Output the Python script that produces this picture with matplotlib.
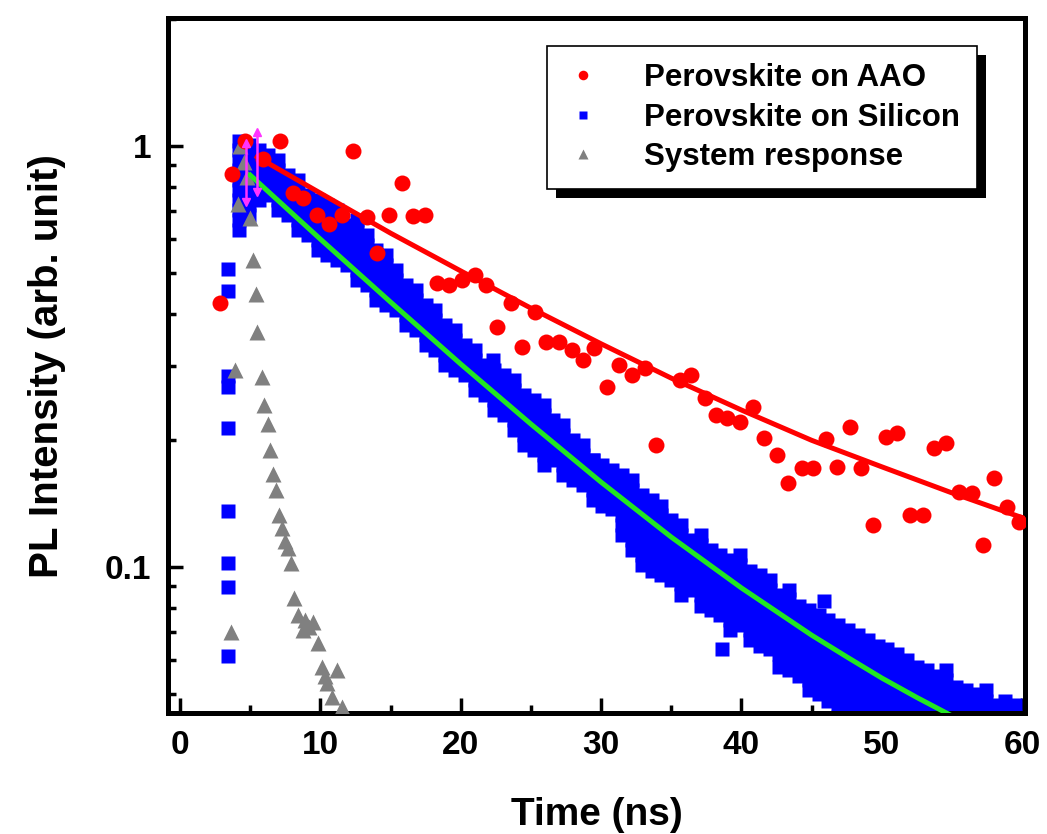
import matplotlib
matplotlib.use('Agg')
import matplotlib.pyplot as plt
from matplotlib.patches import Rectangle
from matplotlib.ticker import FixedLocator, FixedFormatter, MultipleLocator, NullFormatter

plt.rcParams['font.family'] = ['Liberation Sans', 'DejaVu Sans']
plt.rcParams['font.weight'] = 'bold'
plt.rcParams['axes.labelweight'] = 'bold'

# ---------------------------------------------------------------- data
# Perovskite on AAO (red dots)
aao_t = [2.85, 3.7, 4.63, 5.9, 7.12, 8.04, 8.75, 9.75, 10.6, 11.53, 12.31, 13.31, 14.02,
         14.88, 15.8, 16.58, 17.44, 18.3, 19.2, 20.1, 21.0, 21.8, 22.6, 23.6, 24.4, 25.3,
         26.1, 27.0, 27.9, 28.7, 29.5, 30.4, 31.3, 32.2, 33.1, 33.9, 35.6, 36.4, 37.4,
         38.2, 39.0, 39.9, 40.8, 41.6, 42.5, 43.3, 44.3, 45.1, 46.0, 46.8, 47.7, 48.5,
         49.4, 50.3, 51.1, 52.0, 52.9, 53.7, 54.6, 55.5, 56.4, 57.2, 58.0, 58.9, 59.8]
aao_i = [0.424, 0.858, 1.03, 0.93, 1.03, 0.773, 0.752, 0.686, 0.653, 0.686, 0.973, 0.678, 0.557,
         0.686, 0.817, 0.682, 0.686, 0.473, 0.468, 0.481, 0.494, 0.468, 0.372, 0.424, 0.333, 0.403,
         0.342, 0.342, 0.328, 0.310, 0.331, 0.268, 0.302, 0.286, 0.297, 0.195, 0.278, 0.286, 0.252,
         0.230, 0.226, 0.221, 0.240, 0.202, 0.185, 0.158, 0.172, 0.172, 0.201, 0.173, 0.215, 0.172,
         0.126, 0.204, 0.208, 0.133, 0.133, 0.192, 0.197, 0.151, 0.150, 0.113, 0.163, 0.139, 0.128]

# Perovskite on AAO fit (red line)
aao_fit_t = [5.5, 10, 15, 20, 25, 30, 35, 40, 45, 50, 55, 60]
aao_fit_i = [0.942, 0.773, 0.621, 0.505, 0.412, 0.339, 0.281, 0.236, 0.200, 0.173, 0.150, 0.131]

# Perovskite on Silicon (blue squares): rising edge, decay columns, stray points
si_rise_t = [3.45] * 9
si_rise_i = [0.510, 0.453, 0.284, 0.268, 0.214, 0.136, 0.102, 0.0896, 0.0615]

si_t = [4.2, 4.9, 5.6, 6.3, 7.0, 7.7, 8.4, 9.1, 9.8, 10.5, 11.2, 11.9, 12.6, 13.3, 14.0, 14.7,
        15.4, 16.1, 16.8, 17.5, 18.2, 18.9, 19.6, 20.3, 21.0, 21.7, 22.4, 23.1, 23.8, 24.5,
        25.2, 25.9, 26.6, 27.3, 28.0, 28.7, 29.4, 30.1, 30.8, 31.5, 32.2, 32.9, 33.6, 34.3,
        35.0, 35.7, 36.4, 37.1, 37.8, 38.5, 39.2, 39.9, 40.6, 41.3, 42.0, 42.7, 43.4, 44.1,
        44.8, 45.5, 46.2, 46.9, 47.6, 48.3, 49.0, 49.7, 50.4, 51.1, 51.8, 52.5, 53.2, 53.9,
        54.6, 55.3, 56.0, 56.7, 57.4, 58.1, 58.8, 59.5]
si_cols = [
    [1.03, 0.978, 0.926, 0.877, 0.830, 0.786, 0.744, 0.705, 0.667, 0.632],
    [1.005, 0.952, 0.901, 0.853, 0.808, 0.765, 0.724, 0.686],
    [0.978, 0.926, 0.877, 0.830, 0.786, 0.744],
    [0.952, 0.901, 0.853, 0.808, 0.765],
    [0.926, 0.877, 0.830, 0.786, 0.744, 0.705],
    [0.853, 0.808, 0.765, 0.724, 0.686],
    [0.830, 0.786, 0.744, 0.705, 0.667, 0.632],
    [0.765, 0.724, 0.686, 0.649, 0.615],
    [0.744, 0.705, 0.667, 0.632, 0.598, 0.566],
    [0.724, 0.686, 0.649, 0.615, 0.582, 0.551],
    [0.705, 0.667, 0.632, 0.598, 0.566, 0.536],
    [0.649, 0.615, 0.582, 0.551, 0.522],
    [0.667, 0.632, 0.598, 0.566, 0.536, 0.508, 0.481],
    [0.615, 0.582, 0.551, 0.522, 0.494, 0.468],
    [0.566, 0.536, 0.508, 0.481, 0.455, 0.431],
    [0.551, 0.522, 0.494, 0.468, 0.443, 0.419],
    [0.508, 0.481, 0.455, 0.431, 0.408],
    [0.468, 0.443, 0.419, 0.397, 0.376],
    [0.455, 0.431, 0.408, 0.386, 0.366],
    [0.419, 0.397, 0.376, 0.356, 0.337],
    [0.408, 0.386, 0.366, 0.346, 0.328],
    [0.376, 0.356, 0.337, 0.319, 0.302],
    [0.366, 0.346, 0.328, 0.310, 0.294],
    [0.337, 0.319, 0.302, 0.286],
    [0.328, 0.310, 0.294, 0.278, 0.263],
    [0.302, 0.286, 0.271, 0.256],
    [0.294, 0.278, 0.263, 0.249, 0.236],
    [0.286, 0.271, 0.256, 0.243, 0.230],
    [0.278, 0.263, 0.249, 0.236, 0.223, 0.212],
    [0.256, 0.243, 0.230, 0.218, 0.206, 0.195],
    [0.249, 0.236, 0.223, 0.212, 0.200, 0.190],
    [0.243, 0.230, 0.218, 0.206, 0.195, 0.185, 0.175],
    [0.223, 0.212, 0.200, 0.190, 0.180],
    [0.218, 0.206, 0.195, 0.185, 0.175, 0.165],
    [0.200, 0.190, 0.180, 0.170, 0.161],
    [0.195, 0.185, 0.175, 0.165, 0.157],
    [0.180, 0.170, 0.161, 0.152, 0.144],
    [0.175, 0.165, 0.157, 0.148, 0.140],
    [0.170, 0.161, 0.152, 0.144, 0.137],
    [0.165, 0.157, 0.148, 0.140, 0.133, 0.126, 0.119],
    [0.161, 0.152, 0.144, 0.137, 0.129, 0.122, 0.116, 0.110],
    [0.148, 0.140, 0.133, 0.126, 0.119, 0.113, 0.107, 0.101],
    [0.144, 0.137, 0.129, 0.122, 0.116, 0.110, 0.104, 0.098],
    [0.140, 0.133, 0.126, 0.119, 0.113, 0.107, 0.101, 0.096],
    [0.129, 0.122, 0.116, 0.110, 0.104, 0.098, 0.093],
    [0.126, 0.119, 0.113, 0.107, 0.101, 0.096, 0.091, 0.086],
    [0.116, 0.110, 0.104, 0.098, 0.093, 0.088],
    [0.119, 0.113, 0.107, 0.101, 0.096, 0.091, 0.086, 0.081],
    [0.110, 0.104, 0.098, 0.093, 0.088, 0.084, 0.079],
    [0.107, 0.101, 0.096, 0.091, 0.086, 0.081, 0.077],
    [0.104, 0.098, 0.093, 0.088, 0.084, 0.079, 0.075, 0.071],
    [0.107, 0.101, 0.096, 0.091, 0.086, 0.081, 0.077, 0.073],
    [0.098, 0.093, 0.088, 0.084, 0.079, 0.075, 0.071, 0.067],
    [0.096, 0.091, 0.086, 0.081, 0.077, 0.073, 0.069, 0.065],
    [0.093, 0.088, 0.084, 0.079, 0.075, 0.071, 0.067, 0.064],
    [0.086, 0.081, 0.077, 0.073, 0.069, 0.065, 0.062, 0.058],
    [0.088, 0.084, 0.079, 0.075, 0.071, 0.067, 0.064, 0.060, 0.057],
    [0.081, 0.077, 0.073, 0.069, 0.065, 0.062, 0.058, 0.055],
    [0.079, 0.075, 0.071, 0.067, 0.064, 0.060, 0.057, 0.054, 0.051],
    [0.077, 0.073, 0.069, 0.065, 0.062, 0.058, 0.055, 0.052, 0.050],
    [0.075, 0.071, 0.067, 0.064, 0.060, 0.057, 0.054, 0.051, 0.048],
    [0.073, 0.069, 0.065, 0.062, 0.058, 0.055, 0.052, 0.050, 0.047, 0.044],
    [0.071, 0.067, 0.064, 0.060, 0.057, 0.054, 0.051, 0.048, 0.046],
    [0.069, 0.065, 0.062, 0.058, 0.055, 0.052, 0.050, 0.047, 0.044],
    [0.067, 0.064, 0.060, 0.057, 0.054, 0.051, 0.048, 0.046],
    [0.065, 0.062, 0.058, 0.055, 0.052, 0.050, 0.047, 0.044],
    [0.064, 0.060, 0.057, 0.054, 0.051, 0.048, 0.046],
    [0.062, 0.058, 0.055, 0.052, 0.050, 0.047, 0.044],
    [0.060, 0.057, 0.054, 0.051, 0.048, 0.046],
    [0.058, 0.055, 0.052, 0.050, 0.047, 0.044],
    [0.057, 0.054, 0.051, 0.048, 0.046],
    [0.055, 0.052, 0.050, 0.047, 0.044],
    [0.054, 0.051, 0.048, 0.046],
    [0.052, 0.050, 0.047, 0.044],
    [0.051, 0.048, 0.046],
    [0.050, 0.047, 0.044],
    [0.051, 0.048, 0.046],
    [0.047, 0.044],
    [0.048, 0.046],
    [0.047, 0.044],
]
si_stray_t = [22.3, 38.6, 54.6, 29.4, 45.9]
si_stray_i = [0.310, 0.064, 0.057, 0.180, 0.083]

# Perovskite on Silicon fit (green line)
si_fit_t = [5, 10, 15, 20, 25, 30, 35, 40, 45, 47.5, 50, 52.5, 55, 57]
si_fit_i = [0.853, 0.601, 0.426, 0.3035, 0.2186, 0.1591, 0.1178, 0.0892, 0.0689, 0.0612,
            0.0545, 0.0490, 0.0443, 0.0410]

# System response (grey triangles)
sys_t = [4.27, 4.55, 4.77, 4.13, 4.98, 5.2, 5.41, 5.48, 3.91, 5.84, 5.98, 6.26, 6.41, 6.62,
         6.83, 7.05, 7.26, 7.47, 7.69, 7.9, 8.11, 8.4, 8.9, 9.47, 8.75, 3.63, 9.82, 10.1,
         11.17, 10.46, 10.82, 11.53, 11.7, 9.2, 10.3]
sys_i = [1.0, 0.916, 0.844, 0.728, 0.675, 0.536, 0.445, 0.361, 0.294, 0.283, 0.243, 0.219,
         0.190, 0.166, 0.152, 0.133, 0.124, 0.115, 0.111, 0.102, 0.0844, 0.0769, 0.0748, 0.074,
         0.0709, 0.0701, 0.0659, 0.0578, 0.0569, 0.053, 0.0491, 0.0465, 0.045, 0.072, 0.055]

# peak markers (magenta double arrows)
peak_t = [4.7, 5.5]
peak_lo = [0.736, 0.778]
peak_hi = [1.016, 1.08]

# ---------------------------------------------------------------- plot
fig = plt.figure(figsize=(10.47, 8.34), dpi=100)
ax = fig.add_axes([0.1605, 0.145, 0.8185, 0.833])

blue_t = list(si_rise_t) + list(si_stray_t)
blue_i = list(si_rise_i) + list(si_stray_i)
for t, col in zip(si_t, si_cols):
    blue_t += [t] * len(col)
    blue_i += col

ax.plot(blue_t, blue_i, ls='none', marker='s', ms=9.5, color='#0000ff', mec='none',
        label='Perovskite on Silicon', zorder=2)
ax.plot(sys_t, sys_i, ls='none', marker='^', ms=11, color='#808080', mec='none',
        label='System response', zorder=3)
ax.plot(aao_t, aao_i, ls='none', marker='o', ms=11.5, color='#ff0000', mec='none',
        label='Perovskite on AAO', zorder=4)
ax.plot(si_fit_t, si_fit_i, color='#22e622', lw=3.6, zorder=5)
ax.plot(aao_fit_t, aao_fit_i, color='#ff0000', lw=3.6, zorder=5)
for t, lo, hi in zip(peak_t, peak_lo, peak_hi):
    ax.plot([t, t], [lo, hi], color='#ff33ff', lw=1.8, zorder=6)
    ax.plot([t], [hi], marker='^', ms=6, color='#ff33ff', zorder=6)
    ax.plot([t], [lo], marker='v', ms=6, color='#ff33ff', zorder=6)

ax.set_yscale('log')
ax.set_xlim(-0.85, 60.2)
ax.set_ylim(0.045, 2.01)

ax.xaxis.set_major_locator(MultipleLocator(10))
ax.xaxis.set_minor_locator(MultipleLocator(5))
ax.yaxis.set_major_locator(FixedLocator([0.1, 1]))
ax.yaxis.set_major_formatter(FixedFormatter(['0.1', '1']))
minors = [m * 0.01 for m in range(5, 10)] + [m * 0.1 for m in range(2, 10)] + [2.0]
ax.yaxis.set_minor_locator(FixedLocator(minors))
ax.yaxis.set_minor_formatter(NullFormatter())

ax.tick_params(which='both', direction='in', top=False, right=False, width=2.5,
               labelsize=24)
ax.tick_params(which='major', length=11, pad=12)
ax.tick_params(which='minor', length=6)
for s in ax.spines.values():
    s.set_linewidth(3.6)

ax.set_xlabel('Time (ns)', fontsize=28, fontweight='bold', labelpad=26)
ax.set_ylabel('PL Intensity (arb. unit)', fontsize=29, fontweight='bold', labelpad=28)

handles, labels = ax.get_legend_handles_labels()
order = [2, 0, 1]
leg = ax.legend([handles[k] for k in order], [labels[k] for k in order],
                loc='upper left', bbox_to_anchor=(0.442, 0.96), fontsize=22.5,
                frameon=True, fancybox=False, framealpha=1, edgecolor='black',
                markerscale=0.6, handlelength=1.2, handletextpad=1.35,
                labelspacing=0.3, borderpad=0.55, borderaxespad=0)
leg.get_frame().set_linewidth(1.2)
leg.set_zorder(10)

# drop shadow behind the legend box
fig.canvas.draw()
bb = leg.get_window_extent().transformed(ax.transAxes.inverted())
dx = 9 / (ax.bbox.width)
dy = 9 / (ax.bbox.height)
ax.add_patch(Rectangle((bb.x0 + dx, bb.y0 - dy), bb.width, bb.height,
                       transform=ax.transAxes, facecolor='black', edgecolor='none',
                       zorder=9, clip_on=False))

fig.savefig('out.png', dpi=100)
